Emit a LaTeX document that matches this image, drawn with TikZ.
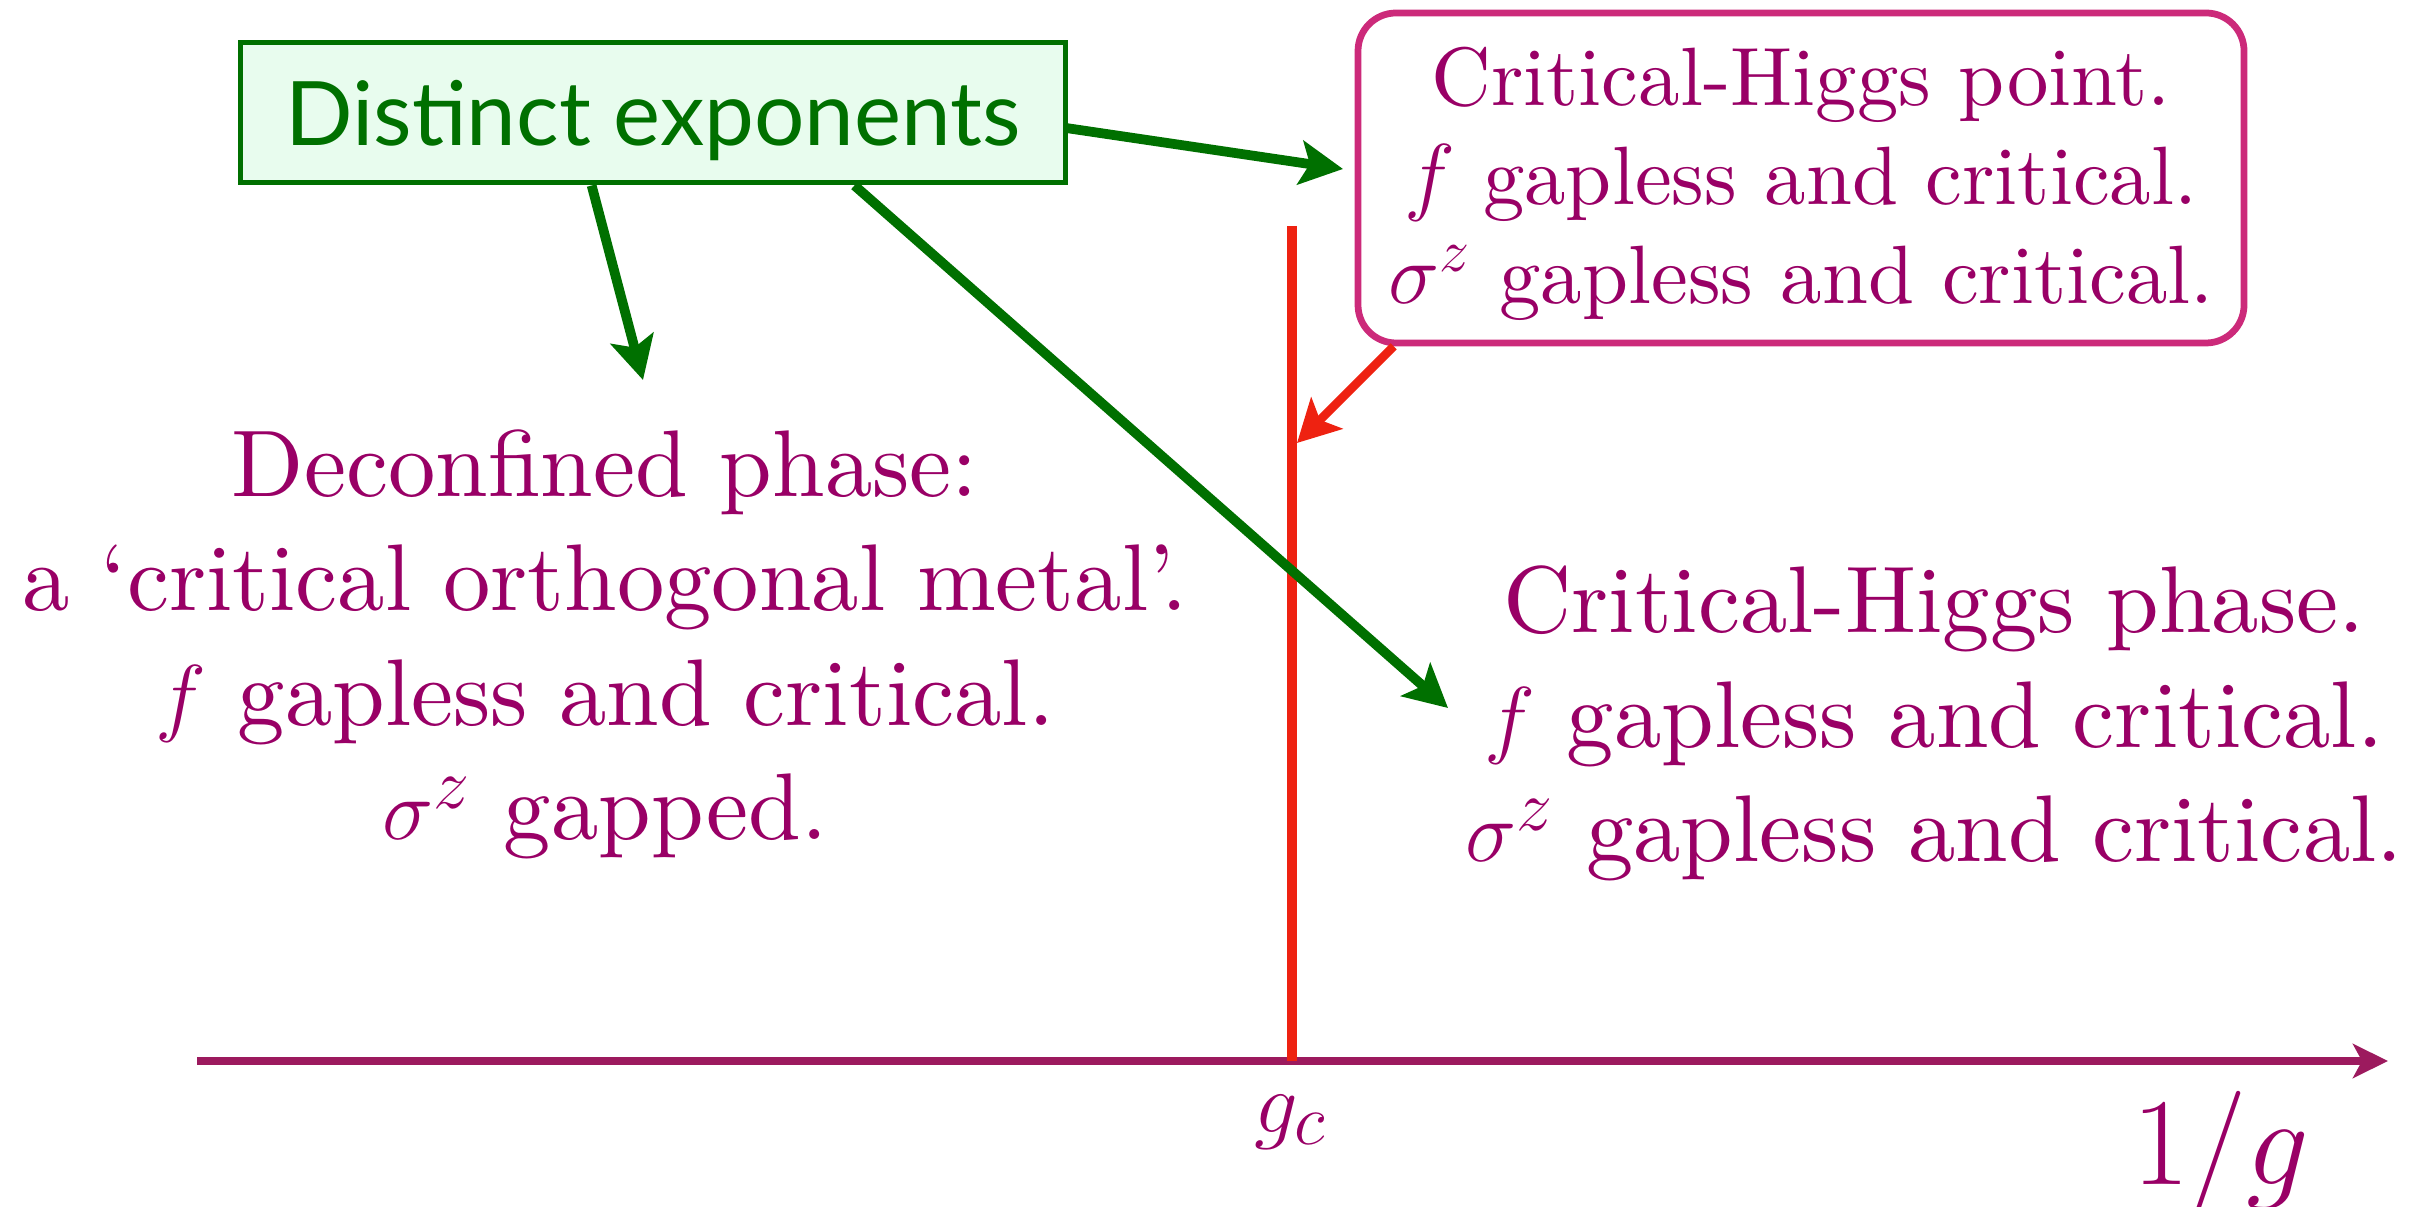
\documentclass[tikz,border=0pt]{standalone}
\usepackage{fontspec}
\setmainfont{lmroman10-regular.otf}[ItalicFont=lmroman10-italic.otf, BoldFont=lmroman10-bold.otf]
\newfontfamily\gillfont{Lato}
\usetikzlibrary{arrows.meta,calc}
\definecolor{txtc}{HTML}{990066}
\definecolor{axisc}{HTML}{9C1A5E}
\definecolor{redc}{HTML}{EE2211}
\definecolor{boxm}{HTML}{CC2A7A}
\definecolor{grn}{HTML}{007000}
\definecolor{gfill}{HTML}{E8FCEE}
\tikzset{
  phasetxt/.style={text=txtc, align=center, inner sep=0pt, anchor=base,
    font=\fontsize{18.94}{22.9}\selectfont},
  garrow/.style={draw=grn, line width=1.95pt,
    -{Stealth[length=8.6pt,width=8.8pt,inset=1.9pt]}},
  rarrow/.style={draw=redc, line width=1.7pt,
    -{Stealth[length=8.4pt,width=8.8pt,inset=1.9pt]}},
  axisline/.style={draw=axisc, line width=1.6pt,
    -{Stealth[length=7pt,width=6.8pt,inset=1.8pt]}},
  redline/.style={draw=redc, line width=2pt},
  greenbox/.style={draw=grn, fill=gfill, line width=1pt, text=grn,
    minimum width=164.8pt, minimum height=28pt, inner sep=0pt,
    text height=13.2pt, text depth=0pt,
    font=\gillfont\fontsize{17.8}{20}\selectfont},
  pointbox/.style={draw=boxm, fill=white, line width=1.35pt, rounded corners=7.6pt,
    minimum width=177.2pt, minimum height=66pt, inner sep=0pt,
    text=txtc, align=center, font=\fontsize{16.56}{19.8}\selectfont},
  axlabel/.style={text=txtc, inner sep=0pt, anchor=base,
    font=\fontsize{18.94}{22.9}\selectfont}
}
\begin{document}
\begin{tikzpicture}[x=0.2pt,y=-0.2pt]
\useasboundingbox (0,0) rectangle (2436,1207);
% axis and critical line
\coordinate (ax0) at (197,1061);
\coordinate (ax1) at (2388,1061);
\coordinate (rtop) at (1292,226);
\coordinate (rbot) at (1292,1061);
\draw[axisline] (ax0) -- (ax1);
\draw[redline] (rtop) -- (rbot);
\node[axlabel] (gc) at (1291,1132) {$g_c$};
\node[axlabel, font=\fontsize{23.5}{28}\selectfont] (invg) at (2221,1184) {$1/g$};
% boxes
\node[greenbox] (gbox) at (653,113) {Distinct exponents};
\node[pointbox] (hp) at (1801,178) {\rule{0pt}{13.9pt}Critical-Higgs point.\\ $f$ gapless and critical.\\ $\sigma^z$ gapless and critical.};
% phase texts (base anchor = last line's baseline)
\node[phasetxt] (dec) at (605,840) {Deconfined phase:\\ a ‘critical orthogonal metal’.\\ $f$ gapless and critical.\\ $\sigma^z$ gapped.};
\node[phasetxt] (chp) at (1934,862) {Critical-Higgs phase.\\ $f$ gapless and critical.\\ $\sigma^z$ gapless and critical.};
% arrow ends
\coordinate (t1) at (643,380);
\coordinate (t2) at (1448,708);
\coordinate (t3) at (1343,169);
\coordinate (t4) at (1297,443);
\draw[garrow] ($(gbox.south west)!0.426!(gbox.south east)$) -- (t1);
\draw[garrow] ($(gbox.south west)!0.743!(gbox.south east)$) -- (t2);
\draw[garrow] ($(gbox.north east)!0.605!(gbox.south east)$) -- (t3);
\draw[rarrow] ([xshift=7.8pt]hp.south west) -- (t4);
\end{tikzpicture}
\end{document}
